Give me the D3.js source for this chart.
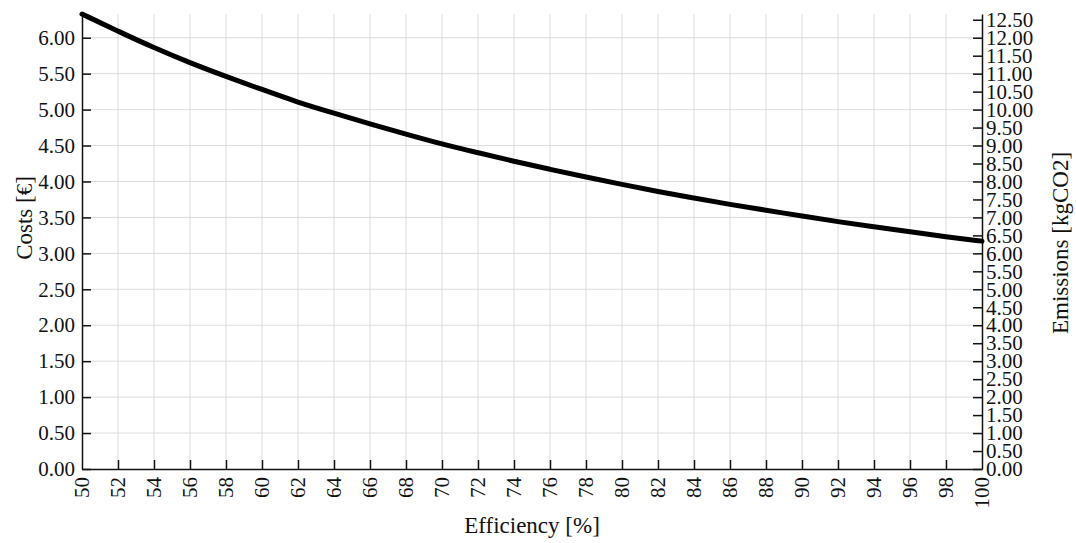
<!DOCTYPE html>
<html>
<head>
<meta charset="utf-8">
<script src="https://cdn.jsdelivr.net/npm/d3@7"></script>
<style>
body{margin:0;background:#fff;}
</style>
</head>
<body>
<div id="chart"></div>
<script>
// efficiency in %, costs in euro
var efficiency = [50,52,54,56,58,60,62,64,66,68,70,72,74,76,78,80,82,84,86,88,90,92,94,96,98,100];
var costs = [6.33,6.09,5.86,5.65,5.46,5.28,5.10,4.95,4.80,4.66,4.52,4.40,4.28,4.17,4.06,3.96,3.86,3.77,3.68,3.60,3.52,3.44,3.37,3.30,3.23,3.17];
var costTicks = d3.range(0,6.01,0.5);
var emissionTicks = d3.range(0,12.51,0.5);
var effTicks = d3.range(50,101,2);

var W=1076, H=543;
var m={left:82,right:94,top:14,bottom:74};
var pw=W-m.left-m.right, ph=H-m.top-m.bottom;
var font='"Liberation Serif", "Times New Roman", serif';
var fs='21px', tfs='23px';

var svg=d3.select('#chart').append('svg').attr('width',W).attr('height',H)
  .attr('font-family',font);
var g=svg.append('g').attr('transform','translate('+m.left+','+m.top+')');

var x=d3.scaleLinear().domain([50,100]).range([0,pw]);
var y=d3.scaleLinear().domain([0,6.33]).range([ph,0]);
var y2=d3.scaleLinear().domain([0,12.66]).range([ph,0]);

// grid
g.append('g').selectAll('line').data(effTicks.slice(1,-1)).enter().append('line')
  .attr('x1',function(d){return x(d);}).attr('x2',function(d){return x(d);})
  .attr('y1',0).attr('y2',ph).attr('stroke','#dcdcdc').attr('stroke-width',1);
g.append('g').selectAll('line').data(costTicks.slice(1)).enter().append('line')
  .attr('x1',0).attr('x2',pw)
  .attr('y1',function(d){return y(d);}).attr('y2',function(d){return y(d);})
  .attr('stroke','#dcdcdc').attr('stroke-width',1);

// left axis
var ax=g.append('g').call(d3.axisLeft(y).tickValues(costTicks).tickFormat(d3.format('.2f')).tickSizeInner(-9).tickSizeOuter(0));
ax.selectAll('text').attr('x',-7);
// right axis
var ar=g.append('g').attr('transform','translate('+pw+',0)')
  .call(d3.axisRight(y2).tickValues(emissionTicks).tickFormat(d3.format('.2f')).tickSizeInner(-9).tickSizeOuter(0));
ar.selectAll('text').attr('x',4);
// bottom axis
var ab=g.append('g').attr('transform','translate(0,'+ph+')')
  .call(d3.axisBottom(x).tickValues(effTicks).tickSizeInner(-9).tickSizeOuter(0));
ab.selectAll('text')
  .attr('transform','rotate(-90)').attr('text-anchor','end')
  .attr('x',-8).attr('y',0).attr('dy','0.33em');
[ax,ar,ab].forEach(function(a){
  a.attr('font-family',font).attr('font-size',fs);
  a.selectAll('text').style('font-family',font).style('font-size',fs).attr('fill','#111');
  a.selectAll('path,line').attr('stroke','#111').attr('stroke-width',1.5);
});
ab.selectAll('.tick').filter(function(d){return d==50||d==100;}).select('line').remove();

// curve
var line=d3.line().x(function(d,i){return x(efficiency[i]);}).y(function(d){return y(d);}).curve(d3.curveBasis);
g.append('path').datum(costs).attr('d',line).attr('fill','none')
  .attr('stroke','#000').attr('stroke-width',5).attr('stroke-linecap','round');

// titles
svg.append('text').attr('transform','translate(32,218) rotate(-90)')
  .attr('text-anchor','middle').style('font-family',font).style('font-size',tfs).attr('fill','#111').text('Costs [€]');
svg.append('text').attr('transform','translate(1068,243) rotate(-90)')
  .attr('text-anchor','middle').style('font-family',font).style('font-size',tfs).attr('fill','#111').text('Emissions [kgCO2]');
svg.append('text').attr('x',532).attr('y',533)
  .attr('text-anchor','middle').style('font-family',font).style('font-size',tfs).attr('fill','#111').text('Efficiency [%]');
</script>
</body>
</html>
